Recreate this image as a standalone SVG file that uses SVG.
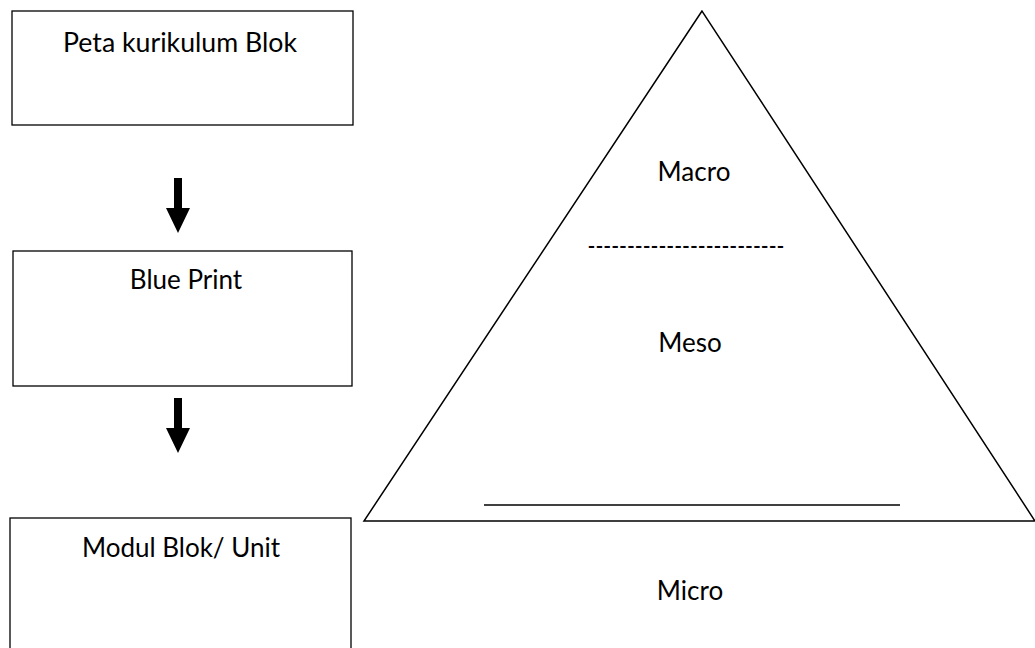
<svg xmlns="http://www.w3.org/2000/svg" width="1035" height="648" viewBox="0 0 1035 648">
  <style>
    .box { fill: #ffffff; stroke: #000000; stroke-width: 1.3; }
    .lbl { font-family: "Lato", "Liberation Sans", sans-serif; font-size: 26px; fill: #000000; text-anchor: middle; }
    .edge { fill: none; stroke: #000000; stroke-width: 1.5; }
  </style>
  <rect width="1035" height="648" fill="#ffffff"/>

  <!-- pyramid -->
  <g id="pyramid">
    <polygon points="702,11 364,521 1035,521" class="edge"/>
    <line x1="484" y1="505" x2="900" y2="505" class="edge"/>
    <text class="lbl" x="694" y="181">Macro</text>
    <text class="lbl" x="686" y="255" textLength="197" lengthAdjust="spacingAndGlyphs">-------------------------</text>
    <text class="lbl" x="690" y="352">Meso</text>
    <text class="lbl" x="690" y="600">Micro</text>
  </g>

  <!-- flow boxes -->
  <g id="peta">
    <rect class="box" x="12" y="11" width="341" height="114"/>
    <text class="lbl" x="180" y="52" textLength="234" lengthAdjust="spacingAndGlyphs">Peta kurikulum Blok</text>
  </g>
  <g id="blueprint">
    <rect class="box" x="13" y="251" width="339" height="135"/>
    <text class="lbl" x="186" y="289">Blue Print</text>
  </g>
  <g id="modul">
    <rect class="box" x="10" y="518" width="341" height="140"/>
    <text class="lbl" x="181" y="557">Modul Blok/ Unit</text>
  </g>

  <!-- block arrows between boxes -->
  <g id="connectors" fill="#000000">
    <polygon points="174,178 182,178 182,208 190,208 178,233 166,208 174,208"/>
    <polygon points="174,398 182,398 182,428 190,428 178,453 166,428 174,428"/>
  </g>
</svg>
